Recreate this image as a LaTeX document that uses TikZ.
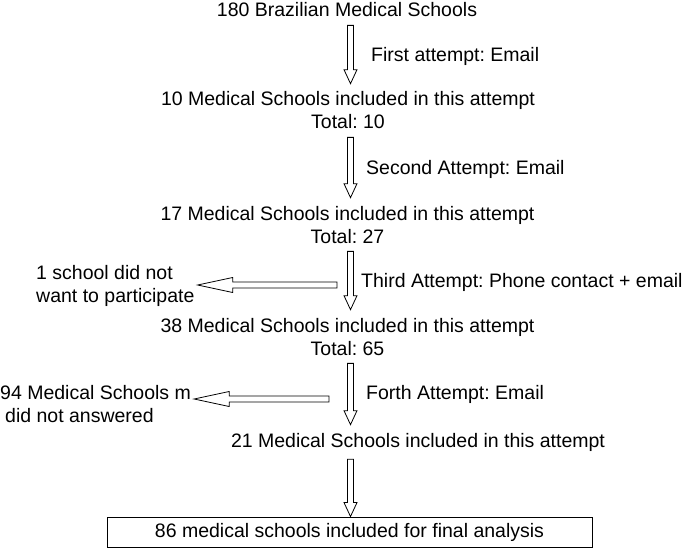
\documentclass[tikz,border=0pt]{standalone}
\usepackage{fontspec}
\setmainfont{Liberation Sans}
\usetikzlibrary{calc}
\frenchspacing

% hollow block arrow: head length, head half width, from, to
\newcommand{\blockarrow}[4]{%
  \path (#3) coordinate (ba-s) (#4) coordinate (ba-e);
  \path ($(ba-e)!#1pt!(ba-s)$) coordinate (ba-h);
  \draw[blockline] ($(ba-s)!3pt!90:(ba-e)$) -- ($(ba-h)!3pt!90:(ba-e)$)
    -- ($(ba-h)!#2pt!90:(ba-e)$) -- (ba-e) -- ($(ba-h)!#2pt!-90:(ba-e)$)
    -- ($(ba-h)!3pt!-90:(ba-e)$) -- ($(ba-s)!3pt!-90:(ba-e)$) -- cycle;
}

\begin{document}
\begin{tikzpicture}[x=1pt,y=-1pt,font=\fontsize{19.5}{23}\selectfont]
  \tikzstyle{count}=[inner xsep=3pt,inner ysep=8pt,align=center,anchor=base]
  \tikzstyle{attempt}=[inner sep=3pt,anchor=base west]
  \tikzstyle{dropout}=[inner sep=3pt,align=left,anchor=base west]
  \tikzstyle{final}=[draw,line width=0.9pt,minimum width=485pt,minimum height=30pt,inner sep=0pt]
  \tikzstyle{blockline}=[line width=0.8pt,line join=miter]
  \useasboundingbox (0,0) rectangle (685,548);
  % counts (base = baseline of last line)
  \node[count] (schools) at (347,17) {180 Brazilian Medical Schools};
  \node[count] (first) at (348,129) {10 Medical Schools included in this attempt\\Total: 10};
  \node[count] (second) at (347.5,243) {17 Medical Schools included in this attempt\\Total: 27};
  \node[count] (third) at (347.5,355) {38 Medical Schools included in this attempt\\Total: 65};
  \node[count] (fourth) at (418,447) {21 Medical Schools included in this attempt};
  \node[final] (final) at (349.5,532) {86 medical schools included for final analysis};
  % attempt labels
  \node[attempt] (firstlabel) at (368,62) {First attempt: Email};
  \node[attempt] (secondlabel) at (363,175) {Second Attempt: Email};
  \node[attempt] (thirdlabel) at (358,287) {Third Attempt: Phone contact + email};
  \node[attempt] (fourthlabel) at (363,399) {Forth Attempt: Email};
  % losses
  \node[dropout] (refused) at (33,302) {1 school did not\\want to participate};
  \node[dropout] (noanswer) at (-3,422) {94 Medical Schools m\\\hspace*{5pt}did not answered};
  % arrows
  \coordinate (col) at (350.5,0);
  \coordinate (refusedstart) at (337,285);
  \coordinate (noanswerstart) at (329,399);
  \blockarrow{14}{6.5}{schools.south -| col}{first.north -| col}
  \blockarrow{14}{6.5}{first.south -| col}{second.north -| col}
  \blockarrow{14}{6.5}{second.south -| col}{third.north -| col}
  \blockarrow{14}{6.5}{third.south -| col}{fourth.north -| col}
  \blockarrow{14}{6.5}{fourth.south -| col}{final.north -| col}
  \blockarrow{35}{7.5}{refusedstart}{refused.east |- refusedstart}
  \blockarrow{35}{7.5}{noanswerstart}{noanswer.east |- noanswerstart}
\end{tikzpicture}
\end{document}
